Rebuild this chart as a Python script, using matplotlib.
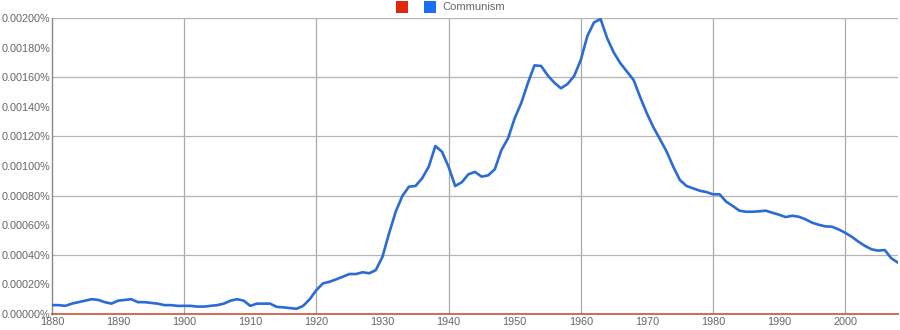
import matplotlib
matplotlib.use("Agg")
import matplotlib.pyplot as plt
from matplotlib.patches import Rectangle
from matplotlib.ticker import FuncFormatter

# data (percent of corpus)
years = list(range(1880, 2009))
communism = [
    0.000060, 0.000060, 0.000055, 0.000070, 0.000080, 0.000090, 0.000100, 0.000095, 0.000080, 0.000070,  # 1880s
    0.000090, 0.000095, 0.000100, 0.000080, 0.000080, 0.000075, 0.000070, 0.000060, 0.000060, 0.000055,  # 1890s
    0.000055, 0.000055, 0.000050, 0.000050, 0.000055, 0.000060, 0.000070, 0.000090, 0.000100, 0.000090,  # 1900s
    0.000055, 0.000070, 0.000070, 0.000070, 0.000048, 0.000045, 0.000040, 0.000035, 0.000055, 0.000100,  # 1910s
    0.000162, 0.000207, 0.000218, 0.000234, 0.000252, 0.000270, 0.000270, 0.000282, 0.000275, 0.000297,  # 1920s
    0.000387, 0.000545, 0.000691, 0.000797, 0.000860, 0.000865, 0.000917, 0.000995, 0.001135, 0.001097,  # 1930s
    0.000995, 0.000865, 0.000890, 0.000944, 0.000960, 0.000928, 0.000937, 0.000978, 0.001108, 0.001187,  # 1940s
    0.001322, 0.001426, 0.001560, 0.001680, 0.001676, 0.001612, 0.001563, 0.001525, 0.001554, 0.001608,  # 1950s
    0.001716, 0.001878, 0.001970, 0.001993, 0.001863, 0.001766, 0.001694, 0.001637, 0.001581, 0.001464,  # 1960s
    0.001356, 0.001261, 0.001180, 0.001097, 0.000995, 0.000905, 0.000865, 0.000849, 0.000833, 0.000824,  # 1970s
    0.000809, 0.000809, 0.000759, 0.000730, 0.000698, 0.000691, 0.000691, 0.000694, 0.000698, 0.000684,  # 1980s
    0.000671, 0.000655, 0.000664, 0.000657, 0.000640, 0.000617, 0.000603, 0.000592, 0.000590, 0.000572,  # 1990s
    0.000549, 0.000522, 0.000489, 0.000460, 0.000437, 0.000428, 0.000432, 0.000376, 0.000347,           # 2000s
]
# second (unnamed) query, flat at zero
other = [0.0] * len(years)

y_ticks = [0.0, 0.0002, 0.0004, 0.0006, 0.0008, 0.0010, 0.0012, 0.0014, 0.0016, 0.0018, 0.0020]
x_ticks = list(range(1880, 2010, 10))

blue = "#2a6bd6"
red = "#c8442a"
grey_txt = "#666666"

plt.rcParams["font.family"] = ["Liberation Sans", "DejaVu Sans"]

fig = plt.figure(figsize=(9, 3.3), dpi=100)
ax = fig.add_axes([52 / 900, 1 - 314 / 330, 846 / 900, 296 / 330])

# grid: every other tick
for yr in range(1900, 2009, 20):
    ax.axvline(yr, color="#aaaaaa", lw=0.9, zorder=0)
for v in y_ticks[2::2]:
    ax.axhline(v, color="#b4b4b4", lw=0.9, zorder=0)

ax.plot(years, communism, color=blue, lw=1.9, zorder=3, solid_joinstyle="round")
ax.plot(years, other, color=red, lw=1.4, zorder=4, clip_on=False, alpha=0.8)

ax.set_xlim(1880, 2008)
ax.set_ylim(0, 0.002)
ax.set_xticks(x_ticks)
ax.set_yticks(y_ticks)
ax.yaxis.set_major_formatter(FuncFormatter(lambda v, p: f"{v:.5f}%"))
ax.tick_params(length=0, labelsize=7.8, labelcolor=grey_txt, pad=1)
ax.tick_params(axis="x", pad=2)

for s in ["top", "right", "bottom"]:
    ax.spines[s].set_visible(False)
ax.spines["left"].set_color("#888888")
ax.spines["left"].set_linewidth(1.0)

# legend at the top
fig.add_artist(Rectangle((396 / 900, 1 - 13 / 330), 12 / 900, 12 / 330,
                         transform=fig.transFigure, color="#e0280c", lw=0))
fig.add_artist(Rectangle((424 / 900, 1 - 13 / 330), 12 / 900, 12 / 330,
                         transform=fig.transFigure, color="#1a6ff0", lw=0))
fig.text(442 / 900, 1 - 7 / 330, "Communism", fontsize=8.0, color=grey_txt,
         va="center", ha="left")

fig.savefig("out.png", dpi=100)
